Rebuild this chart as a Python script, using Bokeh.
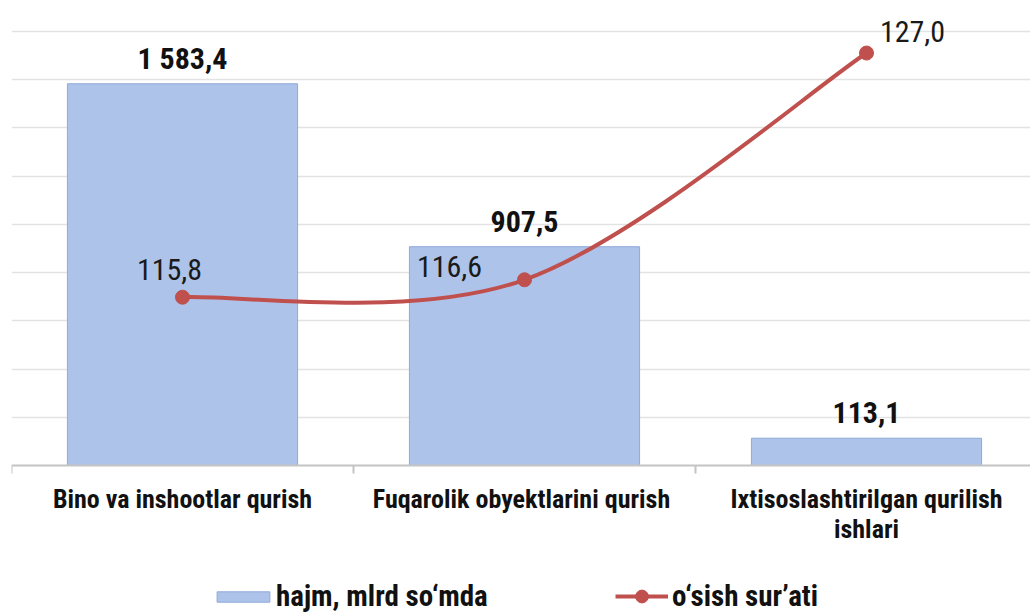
from bokeh.plotting import figure
from bokeh.models import (ColumnDataSource, Range1d, FixedTicker, LabelSet,
                          Legend, LegendItem)
from bokeh.core.properties import value
from bokeh.embed import file_html
from bokeh.resources import INLINE

# ---------------- data ----------------
categories = ["Bino va inshootlar qurish",
              "Fuqarolik  obyektlarini qurish",
              "Ixtisoslashtirilgan qurilish\nishlari"]
volume = [1583.4, 907.5, 113.1]          # hajm, mlrd so'mda
growth = [115.8, 116.6, 127.0]           # o'sish sur'ati
series_names = ["hajm, mlrd so\u2018mda", "o\u2018sish sur\u2019ati"]

# ---------------- styles ----------------
FONT = "Roboto Condensed, Liberation Sans Narrow, Roboto, sans-serif"
RED = "#c0504d"
BLUE = "#adc3e9"
rate_dx = [-13, -75, 46]     # label offsets (px) for growth labels
rate_dy = [17, 3, 11]


def fmt(v):
    return f"{v:,.1f}".replace(",", " ").replace(".", ",")


xs = [i + 0.5 for i in range(len(categories))]
cat_line1 = [c.split("\n")[0] for c in categories]
cat_line2 = [c.split("\n")[1] if "\n" in c else "" for c in categories]

src = ColumnDataSource(dict(
    x=xs, zero=[0] * len(xs), cat1=cat_line1, cat2=cat_line2,
    vol=volume, rate=growth,
    vol_lbl=[fmt(v) for v in volume],
    rate_lbl=[fmt(v) for v in growth],
    dx=rate_dx, dy=rate_dy,
))

p = figure(width=1030, height=615, output_backend="svg", toolbar_location=None,
           x_range=Range1d(0, 2.9795), y_range=Range1d(-622.2, 1928.8),
           x_axis_location="above",
           min_border_left=11, min_border_right=0, min_border_top=0,
           min_border_bottom=0)
p.extra_y_ranges = {"rate": Range1d(101.20, 129.41)}
p.outline_line_color = None
p.background_fill_color = "white"
p.border_fill_color = "white"

p.yaxis.visible = False
p.xgrid.visible = False
p.ygrid.ticker = FixedTicker(ticks=list(range(200, 1801, 200)))
p.ygrid.grid_line_color = "#e3e3e3"
p.ygrid.grid_line_width = 1.5

# category axis line at value 0 with boundary ticks pointing down
ax = p.xaxis[0]
ax.fixed_location = 0
ax.ticker = FixedTicker(ticks=xs, minor_ticks=[0, 1, 2, 3])
ax.major_label_overrides = {x: "" for x in xs}
ax.major_label_text_font_size = "0px"
ax.major_label_standoff = 0
ax.axis_line_color = "#c4c4c4"
ax.axis_line_width = 2
ax.major_tick_line_color = None
ax.major_tick_out = 0
ax.major_tick_in = 0
ax.minor_tick_line_color = "#c4c4c4"
ax.minor_tick_line_width = 2
ax.minor_tick_out = 0
ax.minor_tick_in = 8

bars = p.vbar(x="x", top="vol", bottom=0, width=0.673, source=src,
              fill_color=BLUE, line_color="#8eaadb", line_width=1)

# smooth line (Catmull-Rom -> cubic Bezier) through the growth points
bx0, by0, bx1, by1, bcx0, bcy0, bcx1, bcy1 = ([] for _ in range(8))
n = len(xs)
for i in range(n - 1):
    x0, y0 = xs[i], growth[i]
    x1, y1 = xs[i + 1], growth[i + 1]
    xp, yp = (xs[i - 1], growth[i - 1]) if i > 0 else (x0, y0)
    xn, yn = (xs[i + 2], growth[i + 2]) if i + 2 < n else (x1, y1)
    bx0.append(x0); by0.append(y0); bx1.append(x1); by1.append(y1)
    bcx0.append(x0 + (x1 - xp) / 6); bcy0.append(y0 + (y1 - yp) / 6)
    bcx1.append(x1 - (xn - x0) / 6); bcy1.append(y1 - (yn - y0) / 6)

bez = p.bezier(x0=bx0, y0=by0, x1=bx1, y1=by1, cx0=bcx0, cy0=bcy0,
               cx1=bcx1, cy1=bcy1, line_color=RED, line_width=4,
               y_range_name="rate")
pts = p.scatter(x="x", y="rate", source=src, size=14, fill_color=RED,
                line_color=RED, y_range_name="rate")

cat_style = dict(source=src, text_align="center", text_baseline="top",
                 text_font=value(FONT), text_font_size="26px",
                 text_font_style="bold", text_color="#111111")
cat_labels1 = LabelSet(x="x", y="zero", text="cat1", y_offset=-19, **cat_style)
cat_labels2 = LabelSet(x="x", y="zero", text="cat2", y_offset=-49, **cat_style)
vol_labels = LabelSet(x="x", y="vol", text="vol_lbl", source=src,
                      text_align="center", text_baseline="alphabetic",
                      y_offset=15, text_font=value(FONT),
                      text_font_size="30px", text_font_style="bold",
                      text_color="#111111")
rate_labels = LabelSet(x="x", y="rate", text="rate_lbl", source=src,
                       y_range_name="rate", x_offset="dx", y_offset="dy",
                       text_align="center", text_baseline="alphabetic",
                       text_font=value(FONT), text_font_size="30px",
                       text_color="#1a1a1a")
for lab in (cat_labels1, cat_labels2, vol_labels, rate_labels):
    p.add_layout(lab)

common = dict(orientation="horizontal", padding=0, margin=0,
              border_line_color=None, background_fill_alpha=0,
              label_text_font=FONT, label_text_font_size="29px",
              label_text_font_style="bold", label_text_color="#111111")
leg1 = Legend(items=[LegendItem(label=series_names[0], renderers=[bars])],
              location=(199, 2), glyph_width=66, glyph_height=13,
              label_standoff=0, **common)
leg2 = Legend(items=[LegendItem(label=series_names[1], renderers=[bez, pts])],
              location=(604, 2), glyph_width=53, glyph_height=32,
              label_standoff=4, **common)
p.add_layout(leg1, "center")
p.add_layout(leg2, "center")

with open("out.html", "w", encoding="utf-8") as f:
    f.write(file_html(p, INLINE))
